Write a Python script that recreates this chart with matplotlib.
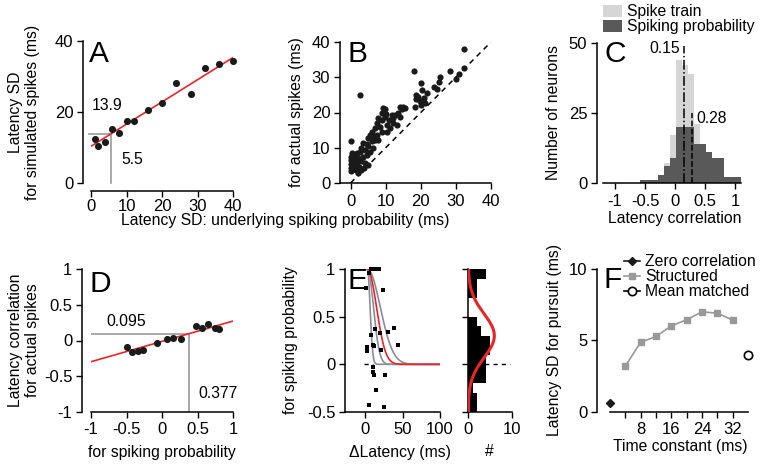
import matplotlib
matplotlib.use('Agg')
import matplotlib.pyplot as plt
import numpy as np
from matplotlib.ticker import FormatStrFormatter, FixedLocator, FixedFormatter
from matplotlib.patches import Patch
from matplotlib.lines import Line2D

plt.rcParams['font.family'] = ['Liberation Sans', 'DejaVu Sans']
plt.rcParams['font.size'] = 11
plt.rcParams['axes.unicode_minus'] = False
plt.rcParams['axes.linewidth'] = 1.1

W, H = 764, 467
fig = plt.figure(figsize=(W / 100, H / 100), dpi=100)

RED = '#e8262a'
GRAY = '#999999'
CURVE_GRAY = '#8a8d99'
LIGHT = '#d6d6d6'
DARK = '#595959'

# ---------------- data ----------------
# A
a_x = [1, 2, 4, 6, 8, 10, 12, 16, 20, 24, 28, 32, 36, 40]
a_y = [12.4, 10.6, 11.6, 15.4, 14.0, 17.4, 17.4, 20.7, 22.7, 28.2, 25.1, 32.4, 33.5, 34.3]
a_fit = (10.4, 0.625)  # intercept, slope
a_ref = (5.5, 13.9)

# B
b_x = [2.7, 0.0, 32.2, 32.2, 28.4, 30.0, 30.8, 18.2, 25.5, 25.3, 23.9, 24.6, 20.1, 20.3, 21.7, 18.5,
       19.3, 20.8, 18.5, 19.8, 21.2, 18.4, 20.1, 15.0, 14.6, 13.6, 12.7, 11.7, 9.3, 9.1, 11.0, 12.2,
       13.1, 10.3, 8.9, 8.4, 7.4, 7.0, 8.9, 10.3, 11.2, 6.0, 5.5, 6.5, 7.4, 5.0, 6.0, 7.0, 7.9, 3.6,
       4.6, 3.1, 4.1, 5.0, 5.5, 6.5, 2.7, 1.7, 0.3, 0.1, 1.0, 2.2, 3.6, 4.6, 0.1, 1.0, 1.9, 3.1, 4.1,
       0.1, 0.1, 0.8, 1.5, 2.5, 0.1, 1.5, 3.1, 2.2, 3.9, 5.0, 9.7, 10.2, 14.0, 15.4, 12.1, 7.9, 9.8, 14.1]
b_y = [24.9, 12.0, 38.1, 32.5, 31.8, 29.5, 31.0, 31.7, 30.1, 28.7, 27.1, 26.8, 28.4, 26.5, 25.4, 24.9,
       24.5, 24.2, 23.8, 23.3, 22.6, 21.6, 22.1, 21.6, 20.9, 19.8, 19.3, 19.3, 21.2, 19.8, 17.9, 16.9,
       16.5, 16.5, 17.9, 16.0, 16.9, 15.5, 14.6, 14.6, 15.5, 14.6, 13.6, 13.2, 13.6, 12.7, 11.8, 12.2,
       12.2, 11.3, 11.1, 9.9, 9.4, 10.4, 8.9, 9.9, 8.9, 8.5, 8.5, 7.5, 7.5, 7.1, 7.5, 8.0, 6.6, 6.4,
       5.8, 6.1, 5.6, 5.5, 4.2, 4.9, 4.7, 4.5, 3.3, 3.6, 3.6, 2.8, 4.2, 5.2, 21.1, 19.7, 21.6, 21.4,
       18.3, 18.4, 18.8, 18.8]

# C
c_edges = [-0.58, -0.48, -0.38, -0.28, -0.18, -0.08, 0.02, 0.12, 0.22, 0.32, 0.42, 0.52, 0.62, 0.72,
           0.82, 0.92, 1.02, 1.12]
c_spike_train = [0, 0, 0, 3, 7, 17, 44, 42, 39, 21, 8, 4, 2, 1, 1, 0, 0]
c_spiking_prob = [1, 1, 1, 3, 6, 9, 20, 20, 20, 14, 14, 11, 9, 9, 2, 2, 2]
c_median_train = 0.15
c_median_prob = 0.28

# D
d_x = [-0.50, -0.42, -0.34, -0.27, -0.07, 0.07, 0.15, 0.27, 0.48, 0.56, 0.65, 0.74, 0.80]
d_y = [-0.09, -0.16, -0.14, -0.13, -0.03, 0.02, 0.035, 0.02, 0.20, 0.17, 0.23, 0.18, 0.16]
d_fit = (-0.012, 0.285)
d_ref = (0.377, 0.095)

# E
e_lat = [5.3, 12, 15.5, 17.8, 8, 1, 23.5, 13, 7.5, 20, 31, 39, 2, 2, 2, 10, 12, 21, 44, 10, 10, 12, 26, 14, 5, 25]
e_corr = [0.96, 1.0, 1.0, 1.0, 1.0, 0.80, 0.78, 0.37, 0.31, 0.33, 0.34, 0.38, 0.18, 0.16, 0.14, 0.20,
          0.19, 0.15, 0.20, -0.03, -0.08, -0.11, -0.11, -0.27, -0.43, -0.45]
e_curve_onset = 3.0
e_gray_sigmas = [3.5, 8.0, 17.0]
e_red_sigma = 12.0
e_hist_edges = [-0.5, -0.4, -0.3, -0.2, -0.1, 0.0, 0.1, 0.2, 0.3, 0.4, 0.5, 0.6, 0.7, 0.8, 0.9, 1.0]
e_hist_counts = [2, 2, 1, 4, 4, 4, 5, 5, 3, 2, 0, 0, 2, 2, 4]
e_gauss = (6.0, 0.30, 0.23)  # peak, mean, sd

# F
f_tc = [4, 8, 12, 16, 20, 24, 28, 32]
f_sd = [3.2, 4.87, 5.27, 6.02, 6.44, 7.0, 6.9, 6.42]
f_zero = (0, 0.6)
f_mean = (36, 4.0)
f_ticks = [4, 8, 12, 16, 20, 24, 28, 32]
f_ticklabels = ['', '8', '', '16', '', '24', '', '32']

TICK_FS = 12
TEXT_FS = 11.3


# ---------------- helpers ----------------
def px_ax(x0, x1, ytop, ybot):
    return fig.add_axes([x0 / W, 1 - ybot / H, (x1 - x0) / W, (ybot - ytop) / H])


def style(ax, left_off=0, bottom_off=0, xpad=2.5):
    for s in ['top', 'right']:
        ax.spines[s].set_visible(False)
    ax.spines['left'].set_position(('outward', left_off * 0.72))
    ax.spines['bottom'].set_position(('outward', bottom_off * 0.72))
    ax.tick_params(direction='out', length=4.5, width=1, labelsize=TICK_FS)
    ax.tick_params(axis='y', pad=2.5)
    ax.tick_params(axis='x', pad=xpad)


def ftext(x, y, s, **kw):
    fig.text(x / W, 1 - y / H, s, **kw)


fmt = FormatStrFormatter('%g')

# ---------------- A ----------------
axA = px_ax(91, 233.3, 41, 183.3)
style(axA, 8, 8, xpad=1.0)
axA.set_xlim(0, 40)
axA.set_ylim(0, 40)
axA.set_xticks([0, 10, 20, 30, 40])
axA.set_yticks([0, 20, 40])
xx = np.array([0, 40])
axA.plot(xx, a_fit[0] + a_fit[1] * xx, color=RED, lw=1.2, zorder=2)
axA.plot([-0.6, a_ref[0], a_ref[0]], [a_ref[1], a_ref[1], 0], color=GRAY, lw=1.2, zorder=1, clip_on=False)
axA.scatter(a_x, a_y, s=26, color='#1a1a1a', zorder=3, clip_on=False, linewidths=0)
axA.text(0.3, 22, '13.9', ha='left', va='center', fontsize=TEXT_FS)
axA.text(8.6, 6.7, '5.5', ha='left', va='center', fontsize=TEXT_FS)

# ---------------- B ----------------
axB = px_ax(340, 491, 42, 183)
style(axB, xpad=3.5)
axB.set_xlim(-3, 40)
axB.set_ylim(0, 40)
axB.set_xticks([0, 10, 20, 30, 40])
axB.set_yticks([0, 10, 20, 30, 40])
axB.plot([0, 40], [0, 40], color='black', lw=1.1, ls=(0, (3.5, 3)), zorder=1)
axB.scatter(b_x, b_y, s=20, color='#1a1a1a', zorder=3, clip_on=False, linewidths=0)

# ---------------- C ----------------
axC = px_ax(603, 741, 43, 183)
style(axC, 6, xpad=3.5)
axC.set_xlim(-1.2, 1.1)
axC.set_ylim(0, 50)
axC.set_xticks([-1, -0.5, 0, 0.5, 1])
axC.set_yticks([0, 25, 50])
axC.xaxis.set_major_formatter(fmt)
ce = np.array(c_edges)
axC.bar(ce[:-1], c_spike_train, width=np.diff(ce), align='edge', color=LIGHT, lw=0, zorder=1)
axC.bar(ce[:-1], c_spiking_prob, width=np.diff(ce), align='edge', color=DARK, lw=0, zorder=2)
axC.plot([c_median_train, c_median_train], [0, 49], color='black', lw=1.1, ls='-.', zorder=3)
axC.plot([c_median_prob, c_median_prob], [0, 25], color='black', lw=1.1, ls='--', zorder=3)
axC.text(c_median_train - 0.07, 48, '0.15', ha='right', va='center', fontsize=TEXT_FS)
axC.text(c_median_prob + 0.08, 23, '0.28', ha='left', va='center', fontsize=TEXT_FS)
axC.legend(handles=[Patch(color=LIGHT, lw=0), Patch(color=DARK, lw=0)],
           labels=['Spike train', 'Spiking probability'],
           loc='upper left', bbox_to_anchor=(603 / W, 1 - 4 / H), bbox_transform=fig.transFigure,
           frameon=False, fontsize=TEXT_FS, handlelength=1.2, handleheight=0.8,
           handletextpad=0.3, labelspacing=0.0, borderpad=0, borderaxespad=0)

# ---------------- D ----------------
axD = px_ax(91, 233.3, 269, 412)
style(axD, 9, xpad=3.0)
axD.set_xlim(-1, 1)
axD.set_ylim(-1, 1)
axD.set_xticks([-1, -0.5, 0, 0.5, 1])
axD.set_yticks([-1, -0.5, 0, 0.5, 1])
axD.xaxis.set_major_formatter(fmt)
axD.yaxis.set_major_formatter(fmt)
xx = np.array([-1, 1])
axD.plot(xx, d_fit[0] + d_fit[1] * xx, color=RED, lw=1.2, zorder=2)
axD.plot([-1, d_ref[0], d_ref[0]], [d_ref[1], d_ref[1], -1], color=GRAY, lw=1.2, zorder=1)
axD.scatter(d_x, d_y, s=26, color='#1a1a1a', zorder=3, linewidths=0)
axD.text(-0.79, 0.27, '0.095', ha='left', va='center', fontsize=TEXT_FS)
axD.text(0.51, -0.74, '0.377', ha='left', va='center', fontsize=TEXT_FS)

# ---------------- E (left) ----------------
axE = px_ax(345, 440, 269, 412)
style(axE, xpad=3.0)
axE.set_xlim(-27, 100)
axE.set_ylim(-0.5, 1)
axE.set_xticks([0, 50, 100])
axE.set_yticks([-0.5, 0, 0.5, 1])
axE.yaxis.set_major_formatter(fmt)
axE.plot([-2, 10], [0, 0], color='black', lw=1.0, ls=(0, (3, 3)), zorder=1)
tt = np.linspace(e_curve_onset, 100, 300)
for sg in e_gray_sigmas:
    axE.plot(tt, np.exp(-(tt - e_curve_onset) ** 2 / (2 * sg ** 2)), color=CURVE_GRAY, lw=1.2, zorder=2)
axE.plot(tt, np.exp(-(tt - e_curve_onset) ** 2 / (2 * e_red_sigma ** 2)), color=RED, lw=1.2, zorder=2)
axE.scatter(e_lat, e_corr, marker='s', s=11, color='black', zorder=3, linewidths=0, clip_on=False)

# ---------------- E (right) ----------------
axE2 = px_ax(468.3, 511.7, 269, 412)
style(axE2, xpad=3.0)
axE2.set_xlim(0, 10)
axE2.set_ylim(-0.5, 1)
axE2.set_xticks([0, 10])
axE2.set_yticks([-0.5, 0, 0.5, 1])
axE2.set_yticklabels([])
he = np.array(e_hist_edges)
axE2.barh(he[:-1], e_hist_counts, height=np.diff(he), align='edge', color='black', lw=0, zorder=2)
axE2.plot([0, 9.5], [0, 0], color='black', lw=1.0, ls=(0, (3, 3)), zorder=1, clip_on=False)
yy = np.linspace(-0.5, 1, 300)
pk, mu, sd = e_gauss
axE2.plot(pk * np.exp(-(yy - mu) ** 2 / (2 * sd ** 2)), yy, color=RED, lw=2.2, zorder=3)

# ---------------- F ----------------
axF = px_ax(610, 748, 269, 411.7)
style(axF, 12.7, xpad=3.0)
axF.set_xlim(0, 36)
axF.set_ylim(0, 10)
axF.xaxis.set_major_locator(FixedLocator(f_ticks))
axF.xaxis.set_major_formatter(FixedFormatter(f_ticklabels))
axF.set_yticks([0, 5, 10])
axF.plot(f_tc, f_sd, color=GRAY, lw=1.2, marker='s', ms=5, mec=GRAY, mfc=GRAY, zorder=2)
axF.plot([f_zero[0]], [f_zero[1]], marker='D', ms=4.5, color='#1a1a1a', ls='none', clip_on=False, zorder=3)
axF.plot([f_mean[0]], [f_mean[1]], marker='o', ms=6, mfc='white', mec='black', mew=1.2, ls='none',
         clip_on=False, zorder=3)
handles = [Line2D([], [], color='#1a1a1a', lw=1.2, marker='D', ms=4.5),
           Line2D([], [], color=GRAY, lw=1.2, marker='s', ms=5),
           Line2D([], [], color='black', lw=1.2, marker='o', ms=6, mfc='white', mew=1.2)]
axF.legend(handles=handles, labels=['Zero correlation', 'Structured', 'Mean matched'],
           loc='upper left', bbox_to_anchor=(624 / W, 1 - 254 / H), bbox_transform=fig.transFigure,
           frameon=False, fontsize=TEXT_FS, handlelength=1.0, handletextpad=0.35, labelspacing=0.0,
           borderpad=0, borderaxespad=0)

# ---------------- panel letters ----------------
for s, x, y in [('A', 89, 62), ('B', 347, 62), ('C', 604, 62), ('D', 90, 292), ('E', 347, 289), ('F', 604, 288)]:
    ftext(x, y, s, fontsize=21.5, ha='left', va='baseline')

# ---------------- axis labels ----------------
ftext(24, 112, 'Latency SD\nfor simulated spikes (ms)', rotation=90, ha='center', va='center',
      multialignment='center', fontsize=TEXT_FS)
ftext(297, 112, 'for actual spikes (ms)', rotation=90, ha='center', va='center', fontsize=TEXT_FS)
ftext(285, 221, 'Latency SD: underlying spiking probability (ms)', ha='center', va='center', fontsize=TEXT_FS)
ftext(553, 113, 'Number of neurons', rotation=90, ha='center', va='center', fontsize=TEXT_FS)
ftext(675, 219, 'Latency correlation', ha='center', va='center', fontsize=TEXT_FS)
ftext(24, 340, 'Latency correlation\nfor actual spikes', rotation=90, ha='center', va='center',
      multialignment='center', fontsize=TEXT_FS)
ftext(162, 452, 'for spiking probability', ha='center', va='center', fontsize=TEXT_FS)
ftext(291, 340, 'for spiking probability', rotation=90, ha='center', va='center', fontsize=TEXT_FS)
ftext(400, 452, '\u0394Latency (ms)', ha='center', va='center', fontsize=TEXT_FS)
ftext(489, 452, '#', ha='center', va='center', fontsize=TEXT_FS)
ftext(555, 340, 'Latency SD for pursuit (ms)', rotation=90, ha='center', va='center', fontsize=TEXT_FS)
ftext(680, 447, 'Time constant (ms)', ha='center', va='center', fontsize=TEXT_FS)

fig.savefig('out.png', dpi=100)
